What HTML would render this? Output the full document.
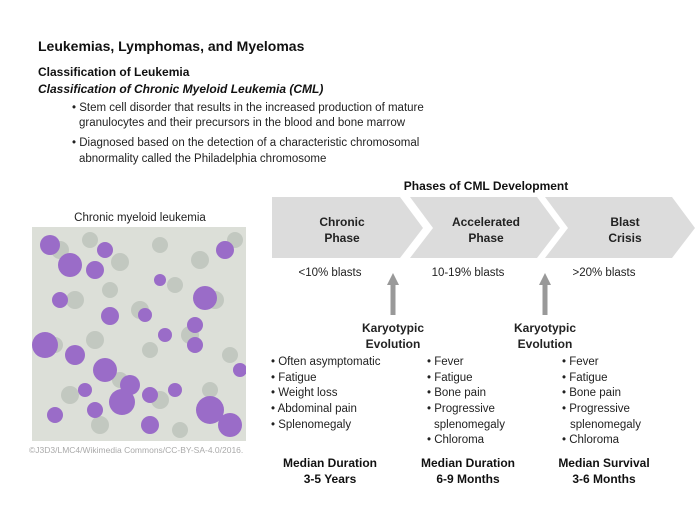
<!DOCTYPE html>
<html><head><meta charset="utf-8"><style>
html,body{margin:0;padding:0;background:#fff;}
svg{display:block;font-family:"Liberation Sans",Arial,sans-serif;}
</style></head><body>
<svg width="700" height="525" viewBox="0 0 700 525" xmlns="http://www.w3.org/2000/svg">
<text x="38" y="51" font-size="14" font-weight="bold" fill="#111">Leukemias, Lymphomas, and Myelomas</text>
<text x="38" y="76" font-size="12" font-weight="bold" fill="#111">Classification of Leukemia</text>
<text x="38" y="93" font-size="12" font-weight="bold" font-style="italic" fill="#111">Classification of Chronic Myeloid Leukemia (CML)</text>
<g font-size="11.5" fill="#222">
<text x="72" y="111">• Stem cell disorder that results in the increased production of mature</text>
<text x="79" y="126">granulocytes and their precursors in the blood and bone marrow</text>
<text x="72" y="146">• Diagnosed based on the detection of a characteristic chromosomal</text>
<text x="79" y="162">abnormality called the Philadelphia chromosome</text>
</g>
<text x="486" y="190" font-size="12" font-weight="bold" text-anchor="middle" fill="#111">Phases of CML Development</text>
<g fill="#dcdcdc">
<polygon points="272,197 400,197 423,228 400,258 272,258"/>
<polygon points="410,197 537,197 560,228 537,258 410,258 433,228"/>
<polygon points="545,197 672,197 695,228 672,258 545,258 568,228"/>
</g>
<g font-size="12" font-weight="bold" text-anchor="middle" fill="#222">
<text x="342" y="226">Chronic</text><text x="342" y="242">Phase</text>
<text x="486" y="226">Accelerated</text><text x="486" y="242">Phase</text>
<text x="625" y="226">Blast</text><text x="625" y="242">Crisis</text>
</g>
<g font-size="11.5" text-anchor="middle" fill="#222">
<text x="330" y="276">&lt;10% blasts</text>
<text x="468" y="276">10-19% blasts</text>
<text x="604" y="276">&gt;20% blasts</text>
</g>
<g fill="#999">
<polygon points="393,273 399,285 395.5,285 395.5,315 390.5,315 390.5,285 387,285"/>
<polygon points="545,273 551,285 547.5,285 547.5,315 542.5,315 542.5,285 539,285"/>
</g>
<g font-size="12" font-weight="bold" text-anchor="middle" fill="#222">
<text x="393" y="332">Karyotypic</text><text x="393" y="348">Evolution</text>
<text x="545" y="332">Karyotypic</text><text x="545" y="348">Evolution</text>
</g>
<g font-size="11.5" fill="#222">
<text x="271" y="365">• Often asymptomatic</text>
<text x="271" y="381">• Fatigue</text>
<text x="271" y="396">• Weight loss</text>
<text x="271" y="412">• Abdominal pain</text>
<text x="271" y="428">• Splenomegaly</text>
<text x="427" y="365">• Fever</text>
<text x="427" y="381">• Fatigue</text>
<text x="427" y="396">• Bone pain</text>
<text x="427" y="412">• Progressive</text>
<text x="434" y="428">splenomegaly</text>
<text x="427" y="443">• Chloroma</text>
<text x="562" y="365">• Fever</text>
<text x="562" y="381">• Fatigue</text>
<text x="562" y="396">• Bone pain</text>
<text x="562" y="412">• Progressive</text>
<text x="570" y="428">splenomegaly</text>
<text x="562" y="443">• Chloroma</text>
</g>
<g font-size="12" font-weight="bold" text-anchor="middle" fill="#111">
<text x="330" y="467">Median Duration</text><text x="330" y="483">3-5 Years</text>
<text x="468" y="467">Median Duration</text><text x="468" y="483">6-9 Months</text>
<text x="604" y="467">Median Survival</text><text x="604" y="483">3-6 Months</text>
</g>
<text x="140" y="221" font-size="11.5" text-anchor="middle" fill="#222">Chronic myeloid leukemia</text>
<defs><clipPath id="c"><rect x="32" y="227" width="214" height="214"/></clipPath></defs>
<rect x="32" y="227" width="214" height="214" fill="#dcdfd8"/>
<g clip-path="url(#c)">
<g fill="#c2c8c0">
<circle cx="60" cy="250" r="9"/><circle cx="90" cy="240" r="8"/><circle cx="120" cy="262" r="9"/><circle cx="160" cy="245" r="8"/><circle cx="200" cy="260" r="9"/><circle cx="235" cy="240" r="8"/>
<circle cx="75" cy="300" r="9"/><circle cx="110" cy="290" r="8"/><circle cx="140" cy="310" r="9"/><circle cx="175" cy="285" r="8"/><circle cx="215" cy="300" r="9"/>
<circle cx="55" cy="345" r="8"/><circle cx="95" cy="340" r="9"/><circle cx="150" cy="350" r="8"/><circle cx="190" cy="335" r="9"/><circle cx="230" cy="355" r="8"/>
<circle cx="70" cy="395" r="9"/><circle cx="120" cy="380" r="8"/><circle cx="160" cy="400" r="9"/><circle cx="210" cy="390" r="8"/><circle cx="100" cy="425" r="9"/><circle cx="180" cy="430" r="8"/>
</g>
<g fill="#9a6cc8">
<circle cx="50" cy="245" r="10"/><circle cx="70" cy="265" r="12"/><circle cx="105" cy="250" r="8"/><circle cx="95" cy="270" r="9"/>
<circle cx="205" cy="298" r="12"/><circle cx="195" cy="325" r="8"/><circle cx="225" cy="250" r="9"/>
<circle cx="110" cy="316" r="9"/><circle cx="145" cy="315" r="7"/><circle cx="195" cy="345" r="8"/><circle cx="165" cy="335" r="7"/>
<circle cx="45" cy="345" r="13"/><circle cx="75" cy="355" r="10"/><circle cx="105" cy="370" r="12"/><circle cx="130" cy="385" r="10"/>
<circle cx="122" cy="402" r="13"/><circle cx="150" cy="395" r="8"/><circle cx="175" cy="390" r="7"/><circle cx="210" cy="410" r="14"/>
<circle cx="55" cy="415" r="8"/><circle cx="95" cy="410" r="8"/><circle cx="150" cy="425" r="9"/><circle cx="230" cy="425" r="12"/>
<circle cx="60" cy="300" r="8"/><circle cx="160" cy="280" r="6"/><circle cx="240" cy="370" r="7"/><circle cx="85" cy="390" r="7"/>
</g>
</g>
<text x="29" y="453" font-size="8.5" fill="#aaa">©J3D3/LMC4/Wikimedia Commons/CC-BY-SA-4.0/2016.</text>
</svg>
</body></html>
